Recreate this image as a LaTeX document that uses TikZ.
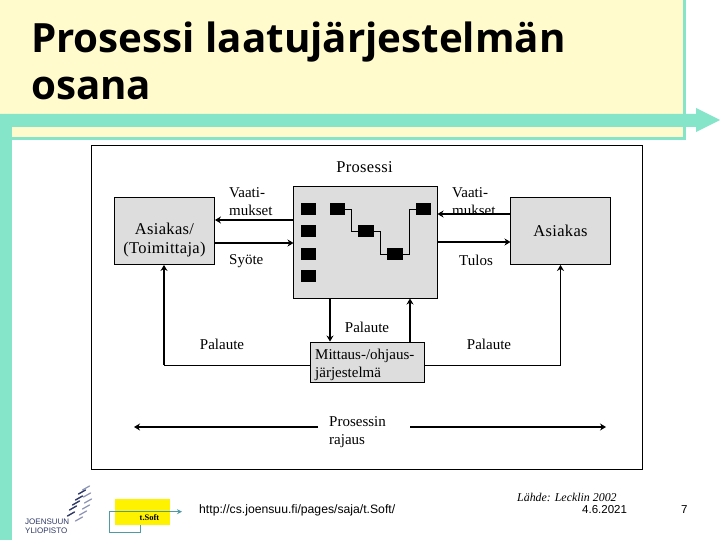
\documentclass[tikz,border=0pt]{standalone}
\usepackage{fontspec}
\setmainfont{Liberation Serif}
\setsansfont{Liberation Sans}
\newfontfamily\titlefont{Open Sans}
\newfontfamily\wideserif{Liberation Serif}[LetterSpace=2]
\usetikzlibrary{arrows.meta}
\definecolor{slideyellow}{HTML}{FFFBCC}
\definecolor{slideteal}{HTML}{85E5C8}
\definecolor{boxgray}{HTML}{DDDDDD}
\definecolor{logoblue}{HTML}{2F3A66}
\definecolor{logolight}{HTML}{8A93B5}
\definecolor{softteal}{HTML}{4F9AA4}
\tikzset{
  blockbox/.style={draw=black, fill=boxgray, line width=0.9pt, inner sep=0pt},
  stepmark/.style={fill=black, draw=none, minimum width=15pt, minimum height=12pt, inner sep=0pt},
  lab/.style={font=\fontsize{15}{18}\selectfont, align=left, inner sep=0pt},
  widelab/.style={font=\wideserif\fontsize{16.5}{19}\selectfont, align=center, inner sep=0pt},
  flowline/.style={line width=1.7pt, -{Stealth[length=6pt,width=7pt]}},
  thinflow/.style={line width=1pt, -{Stealth[length=6pt,width=7pt]}},
  thinlink/.style={line width=0.8pt},
}
\begin{document}
\begin{tikzpicture}[x=1pt, y=-1pt]
  \useasboundingbox (0,0) rectangle (720,540);
  \fill[white] (0,0) rectangle (720,540);

  % slide frame
  \fill[slideyellow] (0,0) rectangle (683,137);
  \fill[slideteal] (683,0) rectangle (686,140);
  \fill[slideteal] (0,137) rectangle (686,140);
  \fill[slideteal] (0,114) -- (696,114) -- (696,108) -- (720,120) -- (696,132) -- (696,127) -- (0,127) -- cycle;
  \fill[slideteal] (0,114) rectangle (12,540);

  \node[anchor=north west, inner sep=0pt, font=\titlefont\bfseries\fontsize{40.3}{47}\selectfont, align=left] (title) at (31,22) {Prosessi laatujärjestelmän\\osana};

  % outer frame
  \draw[line width=0.8pt] (91,145) rectangle (642,469);
  \node[widelab] (prosessi) at (364.5,167) {Prosessi};

  % blocks
  \node[blockbox, minimum width=100pt, minimum height=67pt] (toimittaja) at (164.5,231) {};
  \node[widelab] at (164.5,240) {Asiakas/\\(Toimittaja)};
  \node[blockbox, minimum width=144pt, minimum height=112pt] (prosessibox) at (365.5,242.5) {};
  \node[blockbox, minimum width=100pt, minimum height=67pt] (asiakas) at (560.5,231) {};
  \node[widelab] at (asiakas) {Asiakas};
  \node[blockbox, minimum width=114pt, minimum height=40pt] (mittaus) at (367,362) {};
  \node[lab, anchor=west] at (315,365) {Mittaus-/ohjaus-\\järjestelmä};

  % step marks
  \foreach \y/\nm in {209/a,231/b,254/c,276/d} {
    \node[stepmark] (col\nm) at (308.5,\y) {};
  }
  \node[stepmark] (stepa) at (337.5,209) {};
  \node[stepmark, minimum width=16pt] (stepb) at (366,231) {};
  \node[stepmark, minimum width=16pt] (stepc) at (395,254) {};
  \node[stepmark] (stepd) at (423.5,209) {};
  \draw[thinlink] (stepa.east) -- ++(6,0) |- (stepb.west);
  \draw[thinlink] (stepb.east) -- ++(6,0) |- (stepc.west);
  \draw[thinlink] (stepc.east) -- ++(6,0) |- (stepd.west);

  % flows
  \coordinate (needleft) at (293.5,220);
  \coordinate (feedin) at (293.5,243);
  \coordinate (needright) at (510.5,214);
  \coordinate (needrightend) at (437.5,214);
  \coordinate (outstart) at (437.5,242);
  \coordinate (outend) at (510.5,242);
  \node[lab, anchor=north west] at (229,187) {Vaati-\\mukset};
  \node[lab, anchor=west] at (229,261) {Syöte};
  \begin{scope}
    \clip (440,180) rectangle (510,214);
    \node[lab, anchor=north west] at (452,187) {Vaati-\\mukset};
  \end{scope}
  \node[lab, anchor=west] at (459,260) {Tulos};
  \draw[flowline] (needleft) -- (toimittaja.east |- needleft);
  \draw[flowline] (toimittaja.east |- feedin) -- (feedin);
  \draw[flowline] (needright) -- (needrightend);
  \draw[flowline] (outstart) -- (outend);

  % feedback
  \coordinate (downtop) at (330,298.5);
  \coordinate (uptop) at (410,298.5);
  \coordinate (cornerleft) at (164,365);
  \coordinate (cornerright) at (560.5,365);
  \draw[flowline] (downtop) -- (downtop |- mittaus.north);
  \draw[flowline] (uptop |- mittaus.north) -- (uptop);
  \draw[thinlink, line width=1pt] (mittaus.west |- cornerleft) -- (cornerleft);
  \draw[flowline, line width=2pt] (cornerleft) -- (cornerleft |- toimittaja.south);
  \draw[thinflow] (mittaus.east |- cornerright) -- (cornerright) -- (asiakas.south);
  \node[lab] at (367,327) {Palaute};
  \node[lab] at (222,344) {Palaute};
  \node[lab] at (489,344) {Palaute};

  % boundary
  \node[lab, anchor=west] (rajaus) at (329,432) {Prosessin\\rajaus};
  \coordinate (limitleft) at (134,427);
  \coordinate (limitright) at (606,427);
  \draw[flowline] (318,427) -- (limitleft);
  \draw[flowline] (410,427) -- (limitright);

  % footer
  \node[anchor=west, inner sep=0pt, font=\sffamily\fontsize{12.2}{14}\selectfont] (url) at (199,510) {http://cs.joensuu.fi/pages/saja/t.Soft/};
  \node[anchor=west, inner sep=0pt, font=\itshape\fontsize{11.9}{13}\selectfont] (source) at (517,497) {Lähde: Lecklin 2002};
  \node[anchor=west, inner sep=0pt, font=\sffamily\fontsize{11.5}{14}\selectfont] (date) at (582,510) {4.6.2021};
  \node[anchor=west, inner sep=0pt, font=\sffamily\fontsize{11.5}{14}\selectfont] (pagenum) at (681,510) {7};

  % tSoft logo
  \fill[yellow] (115,499) rectangle (170,525);
  \node[inner sep=0pt, font=\bfseries\fontsize{8.5}{10}\selectfont] (tsoft) at (149.5,518) {t.Soft};
  \draw[softteal, line width=1pt, -{Stealth[length=5pt,width=5pt]}] (140,525) -- (140,532) -- (109,532) -- (109,511.7) -- (182,511.7);

  % university logo
  \foreach \px/\py in {82/492,79/498,76/503,73/508,71/514} {
    \draw[logoblue, line width=1.4pt, line cap=round] (\px-3.5,\py+2) -- (\px+3.5,\py-2);
  }
  \foreach \px/\py in {86/488,87/495,88/501,86/507,83/513,79/519} {
    \draw[logolight, line width=1.2pt, line cap=round] (\px-3.5,\py+2) -- (\px+3.5,\py-2);
  }
  \node[anchor=west, inner sep=0pt, font=\sffamily\fontsize{8}{8.5}\selectfont, align=left, text=logoblue] (uni) at (25,526) {JOENSUUN\\YLIOPISTO};
\end{tikzpicture}
\end{document}
